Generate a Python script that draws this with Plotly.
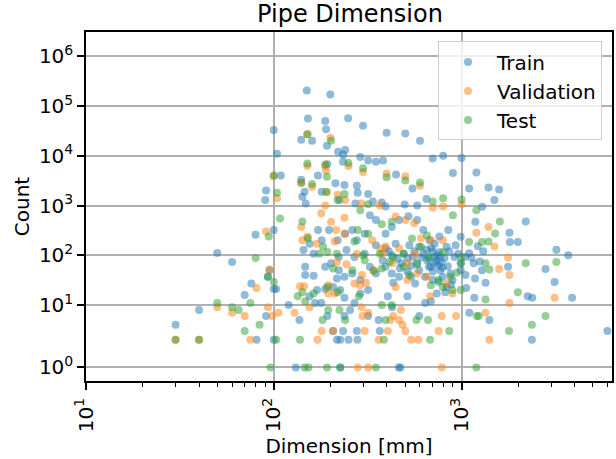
import math
import plotly.graph_objects as go

# ---- data: (dimension in mm, count) ----
train_points = [
    (150, 205000), (200, 170000), (152, 56000), (188, 50000), (249, 57000), (299, 40000),
    (190, 34000), (100, 33000), (399, 29000), (502, 28000), (601, 20000), (140, 21000),
    (160, 20000), (192, 16000), (104, 11000), (220, 12000), (240, 13000), (234, 10500),
    (289, 9500), (318, 8000), (350, 7600), (382, 8000), (702, 8800), (798, 10000),
    (1000, 9000), (234, 7600), (193, 6800), (900, 4500), (1200, 4600), (109, 4000),
    (172, 4000), (448, 4200), (140, 3300), (213, 2800), (238, 2600), (277, 2500),
    (91, 2000), (90, 1300), (146, 1900), (180, 1900), (280, 1800), (318, 1700),
    (548, 2200), (1098, 2200), (1392, 2300), (1585, 2100), (1496, 1300), (142, 1500),
    (148, 1100), (224, 1300), (272, 1100), (337, 1200), (376, 1150), (394, 960),
    (498, 1050), (581, 1000), (651, 1350), (1288, 950), (2198, 480), (1185, 470),
    (1800, 285), (1995, 185), (1810, 185), (3200, 130), (3700, 100), (2800, 53),
    (3130, 29), (3880, 14), (2250, 15), (2380, 14), (5985, 3), (2370, 2), (1407, 5),
    (1100, 7), (1170, 14), (1060, 22), (1770, 59), (1305, 120), (1220, 152), (1097, 110),
    (960, 107), (990, 237), (850, 322), (762, 240), (675, 200), (626, 322), (580, 510),
    (522, 610), (465, 510), (425, 370), (394, 270), (350, 510), (325, 640), (305, 270),
    (277, 200), (262, 322), (240, 270), (219, 200), (197, 322), (180, 200), (172, 322),
    (155, 170), (144, 128), (147, 59), (147, 40), (163, 39), (170, 20), (155, 15),
    (179, 11), (193, 6), (166, 11), (137, 5), (207, 3), (217, 2), (226, 2), (234, 3),
    (277, 3), (279, 2), (250, 2), (367, 3), (362, 5), (318, 6), (238, 6), (255, 8),
    (269, 11), (238, 14), (226, 20), (207, 23), (188, 21), (217, 34), (238, 37),
    (289, 32), (289, 17), (318, 20), (350, 43), (325, 59), (394, 59), (425, 43),
    (433, 28), (465, 37), (515, 15), (427, 9), (405, 15), (539, 37), (595, 50),
    (640, 37), (687, 59), (655, 80), (720, 69), (770, 50), (755, 29), (832, 23),
    (738, 17), (687, 12), (640, 11), (595, 6), (473, 1), (463, 1), (226, 1), (131, 1),
    (100, 2), (81, 2), (91, 6), (93, 37), (76, 27), (70, 16), (103, 21), (100, 21),
    (95, 50), (100, 322), (80, 260), (50, 111), (60, 73), (40, 8), (30, 4), (120, 10),
    (492, 108), (515, 86), (552, 93), (580, 69), (626, 108), (670, 86), (670, 59),
    (703, 47), (720, 93), (770, 93), (755, 63), (703, 32), (794, 37), (874, 43),
    (917, 93), (832, 149), (720, 170), (595, 149), (527, 160), (446, 170), (394, 137),
    (350, 160), (305, 108), (269, 93), (244, 128), (222, 93), (202, 69), (188, 59),
    (163, 108), (222, 50), (262, 43), (425, 100), (478, 69), (515, 47), (566, 27),
    (990, 69), (1045, 93), (1160, 69), (1285, 50), (1180, 34), (1342, 28), (990, 50),
    (895, 32), (735, 78), (745, 100), (760, 115), (780, 72), (790, 56), (812, 88),
    (700, 120), (690, 140), (650, 130), (610, 90), (560, 120), (540, 62), (470, 55),
    (455, 85), (410, 120), (380, 80), (845, 60), (860, 120), (930, 160), (1130, 90),
    (1250, 75), (1050, 40), (880, 26), (820, 18),
]

validation_points = [
    (200, 23000), (151, 27000), (151, 6200), (188, 6200), (190, 5000), (250, 6200),
    (299, 4700), (399, 4400), (502, 3900), (601, 2500), (100, 3900), (104, 1400),
    (140, 2800), (160, 2400), (192, 1850), (219, 1650), (240, 1300), (702, 900),
    (798, 960), (1000, 1050), (292, 1100), (367, 1000), (1200, 285), (1392, 370),
    (1496, 150), (1770, 90), (1585, 53), (1800, 40), (1800, 11), (3130, 14), (1407, 2),
    (1342, 7), (935, 6), (785, 6), (755, 3), (680, 15), (895, 17), (832, 27), (794, 200),
    (687, 200), (608, 220), (560, 440), (502, 510), (446, 600), (394, 150), (370, 137),
    (340, 50), (295, 40), (269, 27), (289, 25), (310, 28), (293, 9), (318, 7), (297, 6),
    (305, 3), (362, 2), (405, 3), (418, 5), (433, 6), (465, 5), (485, 4), (502, 3),
    (539, 2), (589, 2), (476, 8), (446, 23), (515, 32), (580, 43), (655, 37), (566, 108),
    (515, 69), (465, 137), (428, 69), (377, 108), (334, 200), (238, 270), (211, 190),
    (215, 322), (202, 470), (238, 570), (188, 1000), (179, 700), (140, 370), (142, 200),
    (151, 237), (169, 170), (145, 24), (138, 24), (155, 9), (195, 17), (211, 17),
    (195, 25), (217, 73), (244, 66), (277, 108), (318, 1), (280, 1), (785, 1), (171, 2),
    (180, 3), (207, 3), (93, 9), (106, 7), (98, 6), (95, 52), (91, 300), (129, 7),
    (75, 2), (70, 6), (60, 7), (50, 9), (81, 22), (30, 2), (40, 2),
]

test_points = [
    (151, 27000), (202, 20000), (151, 7000), (188, 6700), (250, 7200), (299, 5600),
    (399, 3700), (502, 3200), (601, 2900), (100, 4000), (104, 1800), (140, 2900),
    (160, 2700), (192, 3800), (190, 1900), (219, 1300), (238, 1700), (289, 800),
    (318, 1060), (702, 1200), (798, 1400), (1000, 1320), (900, 640), (1200, 800),
    (1600, 480), (1510, 275), (1392, 190), (1285, 185), (1097, 185), (995, 93),
    (800, 117), (655, 250), (545, 217), (425, 470), (376, 420), (318, 270), (280, 322),
    (269, 190), (299, 100), (217, 108), (193, 117), (183, 149), (175, 108), (152, 220),
    (142, 480), (134, 15), (147, 12), (142, 18), (193, 23), (219, 18), (207, 54),
    (262, 50), (305, 80), (340, 49), (376, 54), (367, 108), (414, 74), (433, 93),
    (492, 108), (492, 59), (527, 40), (580, 66), (608, 149), (670, 93), (687, 25),
    (755, 32), (794, 23), (874, 37), (895, 20), (990, 20), (947, 45), (995, 69),
    (1342, 69), (1407, 52), (1342, 13), (1235, 6), (1205, 6), (1790, 3), (1995, 18),
    (2198, 69), (3200, 73), (2800, 6), (2370, 4), (860, 3), (663, 5), (575, 5), (680, 2),
    (425, 10), (376, 10), (394, 5), (386, 2), (350, 1), (226, 1), (192, 1), (153, 1),
    (146, 1), (96, 1), (1200, 1), (138, 2), (103, 2), (182, 5), (240, 5), (195, 8),
    (224, 8), (284, 15), (163, 17), (93, 37), (100, 29), (80, 88), (94, 240), (108, 550),
    (65, 8), (60, 9), (50, 11), (75, 11), (70, 3), (84, 4), (30, 2), (40, 2),
]

series_names = ["Train", "Validation", "Test"]
series_colors = ["#1f77b4", "#ff7f0e", "#2ca02c"]
y_tick_exponents = [0, 1, 2, 3, 4, 5, 6]
x_tick_values = [10, 100, 1000]
x_minor_values = [20, 30, 40, 50, 60, 70, 80, 90,
                  200, 300, 400, 500, 600, 700, 800, 900,
                  2000, 3000, 4000, 5000, 6000]

# matplotlib-style symlog (linthresh=2, linscale=1, base 10), in decade units
LINTHRESH = 2.0
LINSCALE_ADJ = 1.0 / (1.0 - 1.0 / 10.0)


def symlog(v):
    if v <= LINTHRESH:
        return v / LINTHRESH * LINSCALE_ADJ
    return LINSCALE_ADJ + math.log10(v / LINTHRESH)


fig = go.Figure()
for name, color, pts in zip(series_names, series_colors,
                            [train_points, validation_points, test_points]):
    dims = [p[0] for p in pts]
    counts = [p[1] for p in pts]
    fig.add_trace(go.Scatter(
        x=dims, y=[symlog(c) for c in counts], mode="markers", name=name,
        customdata=counts, hovertemplate="%{x} mm<br>%{customdata}<extra></extra>",
        marker=dict(color=color, size=8, opacity=0.5, line=dict(width=0)),
    ))

font = "DejaVu Sans, Arial, sans-serif"
fig.update_layout(
    width=616, height=459,
    margin=dict(l=86, r=2, t=32, b=78),
    paper_bgcolor="white", plot_bgcolor="white",
    font=dict(family=font, size=20, color="black"),
    title=dict(text="Pipe Dimension", x=(86 + 614) / 2 / 616, xanchor="center",
               y=1 - 14 / 459, yanchor="middle", font=dict(size=24)),
    showlegend=True,
    legend=dict(x=0.981, y=0.973, xanchor="right", yanchor="top",
                bgcolor="rgba(255,255,255,0.8)", bordercolor="#cccccc", borderwidth=1,
                font=dict(size=20), itemwidth=48),
)
fig.update_xaxes(
    type="log", range=[1, math.log10(6330)],
    tickmode="array", tickvals=x_tick_values,
    ticktext=["10<sup>1</sup>", "10<sup>2</sup>", "10<sup>3</sup>"],
    tickangle=-90, ticks="outside", ticklen=7, tickwidth=1.5, tickcolor="black",
    showline=True, linecolor="black", linewidth=1.5, mirror=True,
    showgrid=True, gridcolor="#b0b0b0", gridwidth=1.5, zeroline=False,
    minor=dict(tickmode="array", tickvals=x_minor_values, ticks="outside",
               ticklen=4, tickwidth=1.2, tickcolor="black", showgrid=False),
    title=dict(text="Dimension [mm]", font=dict(size=20), standoff=8),
)
fig.update_yaxes(
    range=[0.284, 7.298],
    tickmode="array", tickvals=[symlog(10 ** k) for k in y_tick_exponents],
    ticktext=["10<sup>%d</sup>" % k for k in y_tick_exponents],
    ticks="outside", ticklen=7, tickwidth=1.5, tickcolor="black",
    showline=True, linecolor="black", linewidth=1.5, mirror=True,
    showgrid=True, gridcolor="#b0b0b0", gridwidth=1.5, zeroline=False,
    title=dict(text="Count", font=dict(size=20), standoff=4),
)

fig.write_html("out.html")
